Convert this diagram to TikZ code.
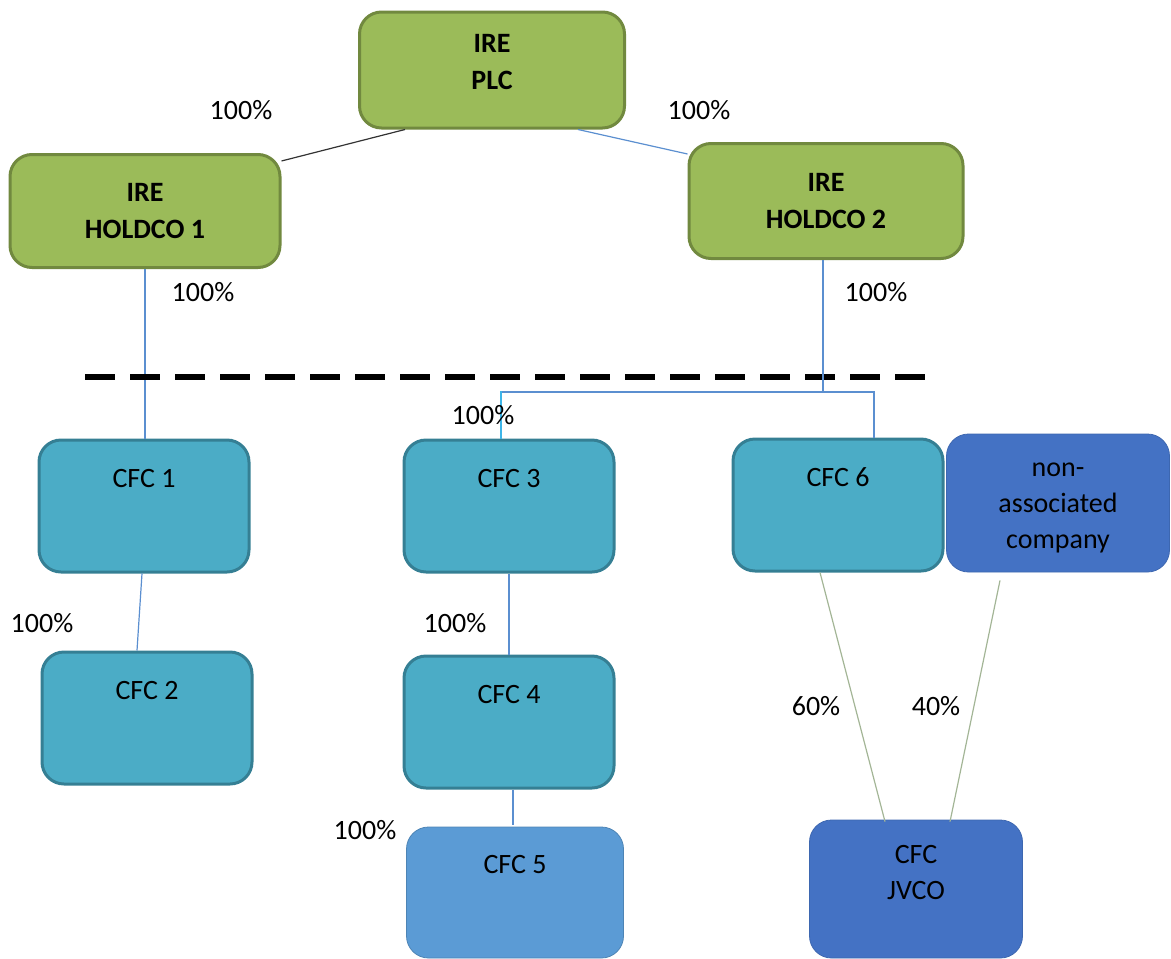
\documentclass[tikz,border=0pt]{standalone}
\usepackage{fontspec}
\setmainfont{Carlito}
\usetikzlibrary{calc}
\definecolor{olive}{HTML}{9BBB59}
\definecolor{oliveline}{HTML}{71893F}
\definecolor{teal}{HTML}{4BACC6}
\definecolor{tealline}{HTML}{357F94}
\definecolor{sky}{HTML}{5B9BD5}
\definecolor{royal}{HTML}{4472C4}
\definecolor{linkblue}{HTML}{5B8FD0}
\definecolor{linkcyan}{HTML}{3DB5E8}
\definecolor{linkgreen}{HTML}{A3B596}
\begin{document}
\begin{tikzpicture}[x=0.5pt, y=-0.5pt,
    every node/.style={font=\fontsize{14}{18}\selectfont, inner sep=0pt, align=center},
    box/.style={rectangle, rounded corners=11pt, minimum width=105pt, minimum height=66pt},
    ire/.style={box, fill=olive, draw=oliveline, line width=1.5pt, font=\fontsize{14}{18.5}\selectfont\bfseries},
    cfc/.style={box, fill=teal, draw=tealline, line width=1.5pt, text height=10pt, text depth=29pt},
    pale/.style={box, fill=sky, draw=sky!85!black, line width=0.4pt, text height=10pt, text depth=29pt},
    dark/.style={box, fill=royal, draw=royal!90!black, line width=0.4pt},
    link/.style={linkblue, line width=0.6pt},
    joint/.style={linkgreen, line width=0.6pt},
    pct/.style={}]
    \useasboundingbox (0,0) rectangle (1171,958);

    \node[ire, minimum width=132.5pt, minimum height=58pt, text height=22pt, text depth=2.5pt] (plc) at (492,70) {IRE\\PLC};
    \node[ire, minimum width=135pt, minimum height=56.5pt] (hold1) at (145,211) {IRE\\HOLDCO 1};
    \node[ire, minimum width=137pt, minimum height=57.5pt] (hold2) at (826,201) {IRE\\HOLDCO 2};

    \node[cfc] (cfc1) at (144,506) {CFC 1};
    \node[cfc] (cfc2) at (147,718) {CFC 2};
    \node[cfc] (cfc3) at (509,506) {CFC 3};
    \node[cfc] (cfc4) at (509,722) {CFC 4};
    \node[pale, minimum width=108.5pt, minimum height=65.5pt] (cfc5) at (515,892.5) {CFC 5};
    \node[cfc] (cfc6) at (838,505) {CFC 6};
    \node[dark, minimum width=111.5pt, minimum height=69pt, text height=48pt, text depth=3pt] (nonassoc) at (1058,503) {non-\\associated\\company};
    \node[dark, minimum width=106.5pt, minimum height=69pt, text height=24.5pt, text depth=14pt] (jvco) at (916,889) {CFC\\JVCO};

    \draw[black!80, line width=0.6pt] ($(plc.south)+(-87,0)$) -- ($(hold1.north east)+(0,8)$);
    \draw[link] ($(plc.south)+(86,0)$) -- ($(hold2.north west)+(0,12)$);
    \draw[link] (hold1.south) -- (hold1.south |- cfc1.north);

    \draw[black, line width=3pt, dash pattern=on 15pt off 7.5pt] (85,377) -- (930,377);

    \coordinate (bus) at (823,392);
    \draw[link] (hold2.south -| bus) -- (bus);
    \draw[link] ($(cfc3.north)+(-8,0)$) |- (bus);
    \draw[linkcyan, line width=0.8pt] ($(cfc3.north)+(-8,0)$) -- +(0,-48);
    \draw[link] (bus) -| ($(cfc6.north)+(36,0)$);

    \draw[link] ($(cfc1.south)+(-2,0)$) -- ($(cfc2.north)+(-10,0)$);
    \draw[link] (cfc3.south) -- (cfc4.north);
    \draw[link] ($(cfc4.south)+(4,0)$) -- ($(cfc5.north)+(-2,-2)$);
    \draw[joint] ($(cfc6.south)+(-18,0)$) -- ($(jvco.north)+(-31,2)$);
    \draw[joint] ($(nonassoc.south)+(-58,8)$) -- ($(jvco.north)+(34,2)$);

    \node[pct] (p1) at (241,110) {100\%};
    \node[pct] (p2) at (699,110) {100\%};
    \node[pct] (p3) at (203,292) {100\%};
    \node[pct] (p4) at (876,292) {100\%};
    \node[pct] (p5) at (483,415) {100\%};
    \node[pct] (p6) at (42,623) {100\%};
    \node[pct] (p7) at (455,623) {100\%};
    \node[pct] (p8) at (365,830) {100\%};
    \node[pct] (p9) at (816,706) {60\%};
    \node[pct] (p10) at (936,706) {40\%};
\end{tikzpicture}
\end{document}
